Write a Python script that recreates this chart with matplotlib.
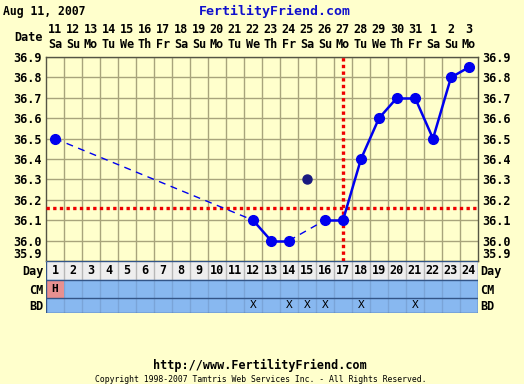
import matplotlib.pyplot as plt

# data
day_nums = list(range(1, 25))
dates = ["11", "12", "13", "14", "15", "16", "17", "18", "19", "20", "21", "22",
         "23", "24", "25", "26", "27", "28", "29", "30", "31", "1", "2", "3"]
weekdays = ["Sa", "Su", "Mo", "Tu", "We", "Th", "Fr"] * 3 + ["Sa", "Su", "Mo"]

temp_days = [1, 12, 13, 14, 15, 16, 17, 18, 19, 20, 21, 22, 23, 24]
temps = [36.5, 36.1, 36.0, 36.0, 36.3, 36.1, 36.1, 36.4, 36.6, 36.7, 36.7, 36.5, 36.8, 36.85]
discarded = [15]
coverline = 36.16
ovulation_day = 17
cm_days = [1]
cm_labels = ["H"]
bd_days = [12, 14, 15, 16, 18, 21]

bg = "#FFFFCC"
grid_c = "#A8A47C"
mono = "DejaVu Sans Mono"

fig = plt.figure(figsize=(5.24, 3.84), dpi=100, facecolor=bg)

# main chart
ax = fig.add_axes([46/524, 123/384, 432/524, 204/384])
ax.set_facecolor(bg)
ax.set_xlim(0.5, 24.5)
ax.set_ylim(35.9, 36.9)
ax.set_xticks([d + 0.5 for d in day_nums[:-1]])
ax.set_xticklabels([])
ax.set_yticks([35.9 + 0.1 * i for i in range(11)])
ax.set_yticklabels(["%.1f" % (35.9 + 0.1 * i) for i in range(11)],
                   fontfamily=mono, fontweight="bold", fontsize=8.5)
ax.tick_params(axis="y", length=0, pad=3, labelright=True)
ax.tick_params(axis="x", length=0)
# lowest labels sit a bit above the line, clear of the table
ax.yaxis.get_major_ticks()[0].label1.set_va("bottom")
ax.yaxis.get_major_ticks()[0].label2.set_va("bottom")
ax.grid(True, color=grid_c, linewidth=1)
for s in ax.spines.values():
    s.set_color("#555544")
    s.set_linewidth(1)

ax.axhline(coverline, color="#EE0000", lw=2.4, ls=(0, (1, 1)), zorder=3)
ax.axvline(ovulation_day, color="#EE0000", lw=2.4, ls=(0, (1, 1)), zorder=3)

# connect the kept temperatures
kept = [(d, t) for d, t in zip(temp_days, temps) if d not in discarded]
for (d0, t0), (d1, t1) in zip(kept[:-1], kept[1:]):
    if d1 - d0 == 1:
        ax.plot([d0, d1], [t0, t1], color="#0000EE", lw=1.8, zorder=4)
    else:
        ax.plot([d0, d1], [t0, t1], color="#0000EE", lw=1, ls=(0, (5, 4)), zorder=4)
ax.plot([d for d, t in kept], [t for d, t in kept], "o", color="#0000EE",
        ms=7, zorder=5, linestyle="none")
for d, t in zip(temp_days, temps):
    if d in discarded:
        ax.plot(d, t, "o", color="#1A1A80", ms=6.5, zorder=5)

# date header
for d, dt, wd in zip(day_nums, dates, weekdays):
    ax.text(d, 36.9 + 0.133, dt, ha="center", va="center", fontfamily=mono,
            fontweight="bold", fontsize=8.5)
    ax.text(d, 36.9 + 0.06, wd, ha="center", va="center", fontfamily=mono,
            fontweight="bold", fontsize=8.5)
ax.text(0.33, 36.9 + 0.095, "Date", ha="right", va="center", fontfamily=mono,
        fontweight="bold", fontsize=8.5)

# table below
tb = fig.add_axes([46/524, 71/384, 432/524, 52/384])
tb.set_xlim(0.5, 24.5)
tb.set_ylim(52, 0)
tb.axis("off")
rows = [(0, 19, "Day", "#EEEEEE"), (19, 37, "CM", "#88B8F0"), (37, 52, "BD", "#88B8F0")]
for y0, y1, lab, col in rows:
    tb.axhspan(y0, y1, color=col, zorder=0)
    tb.text(0.38, (y0 + y1) / 2 + 1, lab, ha="right", va="center", fontfamily=mono,
            fontweight="bold", fontsize=8.5)
    tb.text(24.62, (y0 + y1) / 2 + 1, lab, ha="left", va="center", fontfamily=mono,
            fontweight="bold", fontsize=8.5)
tb.vlines([d + 0.5 for d in day_nums[:-1]], 0, 19, color="#B8B8B8", lw=1, zorder=1)
tb.vlines([d + 0.5 for d in day_nums[:-1]], 19, 52, color="#7AA4D8", lw=1, zorder=1)
tb.hlines([0, 19, 37, 52], 0.5, 24.5, color="#335588", lw=1, zorder=2)
tb.vlines([0.5, 24.5], 0, 52, color="#335588", lw=1, zorder=2)
for d in day_nums:
    tb.text(d, 10, str(d), ha="center", va="center", fontfamily=mono,
            fontweight="bold", fontsize=8.5)
for d, lab in zip(cm_days, cm_labels):
    tb.bar(d, 18, bottom=19, width=1, color="#E89090", zorder=1)
    tb.text(d, 28, lab, ha="center", va="center", fontfamily=mono,
            fontweight="bold", fontsize=8)
for d in bd_days:
    tb.text(d, 44.5, "X", ha="center", va="center", fontfamily=mono, fontsize=8)

# titles / footer
fig.text(3/524, 1 - 11/384, "Aug 11, 2007", ha="left", va="center",
         fontfamily=mono, fontweight="bold", fontsize=8.3)
fig.text(275/524, 1 - 11/384, "FertilityFriend.com", ha="center", va="center",
         fontfamily=mono, fontweight="bold", fontsize=9.5, color="#1010CC")
fig.text(260/524, 1 - 365/384, "http://www.FertilityFriend.com", ha="center",
         va="center", fontfamily=mono, fontweight="bold", fontsize=8.5)
fig.text(261/524, 1 - 379/384,
         "Copyright 1998-2007 Tamtris Web Services Inc. - All Rights Reserved.",
         ha="center", va="center", fontfamily=mono, fontsize=5.9)

fig.savefig("out.png", dpi=100, facecolor=bg)
